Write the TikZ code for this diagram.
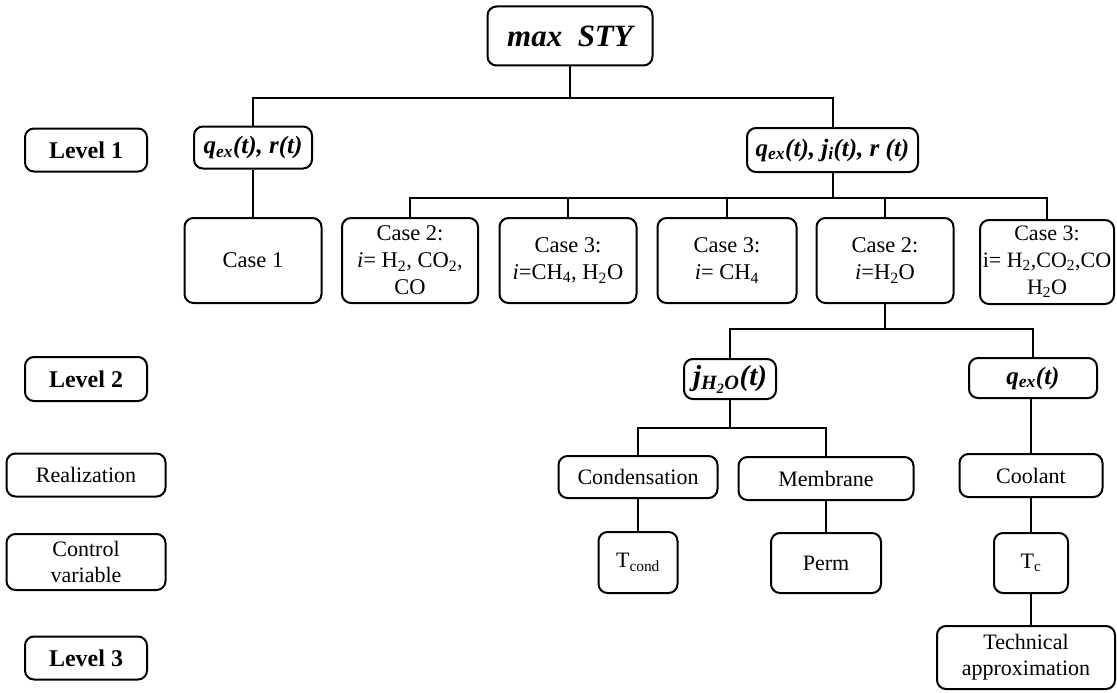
\documentclass[tikz,border=0pt]{standalone}
\usepackage{fontspec}
\setmainfont{Liberation Serif}
\usetikzlibrary{positioning}

\tikzset{
  tbox/.style={draw,line width=2pt,rounded corners=9pt,align=center,inner sep=2pt,font=\fontsize{22}{26}\selectfont},
  lvlbox/.style={tbox,font=\fontsize{24}{28}\selectfont\bfseries,minimum width=122pt,minimum height=43pt},
  sidebox/.style={tbox,minimum width=159pt},
  varbox/.style={tbox,font=\fontsize{25}{28}\selectfont\bfseries\itshape,minimum height=42pt},
  casebox/.style={tbox,minimum width=137pt,minimum height=85pt,font=\fontsize{22.5}{27}\selectfont},
  link/.style={line width=2pt}
}

\begin{document}
\begin{tikzpicture}[x=1pt,y=-1pt]
\useasboundingbox (0,0) rectangle (1117,693);
% top
\node [tbox,font=\fontsize{31}{34}\selectfont\bfseries\itshape,minimum width=165pt,minimum height=59pt] (STY) at (570,36) {max\ \ STY};
% level labels on the left
\node [lvlbox] (LevelOne) at (86,150) {Level 1};
\node [lvlbox,minimum height=44pt] (LevelTwo) at (86,379) {Level 2};
\node [sidebox,minimum height=43pt] (Realization) at (86,475) {Realization};
\node [sidebox,minimum height=56pt,font=\fontsize{22}{26}\selectfont] (ControlVar) at (86,562) {Control\\variable};
\node [lvlbox] (LevelThree) at (86,658) {Level 3};
% level 1
\node [varbox,minimum width=118pt] (QR) at (253,147.5) {q\textsubscript{ex}(t), r(t)};
\node [varbox,minimum width=171pt,minimum height=44pt] (QJR) at (832.5,150) {q\textsubscript{ex}(t), j\textsubscript{i}(t), r (t)};
\node [casebox] (CaseOne) at (253,260.5) {Case 1};
\node [casebox,minimum width=136pt] (CaseTwoA) at (410,260.5) {Case 2:\\\textit{i}= H\textsubscript{2}, CO\textsubscript{2},\\CO};
\node [casebox] (CaseThreeA) at (568,260.5) {Case 3:\\\textit{i}=CH\textsubscript{4}, H\textsubscript{2}O};
\node [casebox,minimum width=139pt] (CaseThreeB) at (727,260.5) {Case 3:\\\textit{i}= CH\textsubscript{4}};
\node [casebox] (CaseTwoB) at (885,260.5) {Case 2:\\\textit{i}=H\textsubscript{2}O};
\node [casebox,minimum width=134pt,minimum height=84pt,font=\fontsize{22}{27}\selectfont] (CaseThreeC) at (1047,262) {Case 3:\\i= H\textsubscript{2},CO\textsubscript{2},CO\\H\textsubscript{2}O};
% level 2
\node [varbox,minimum width=92pt,minimum height=40pt,font=\fontsize{29}{32}\selectfont\bfseries\itshape] (JW) at (730,379) {j\textsubscript{H\textsubscript{2}O}(t)};
\node [varbox,minimum width=128pt,minimum height=40pt] (QX) at (1033,378) {q\textsubscript{ex}(t)};
% realization
\node [tbox,minimum width=159pt,minimum height=42pt] (Condensation) at (638,477) {Condensation};
\node [tbox,minimum width=175pt,minimum height=43pt] (Membrane) at (826,478.5) {Membrane};
\node [tbox,minimum width=143pt,minimum height=43pt] (Coolant) at (1031,475.5) {Coolant};
% control variables
\node [tbox,minimum width=79pt,minimum height=61pt] (TCond) at (638,562.5) {T\textsubscript{cond}};
\node [tbox,minimum width=110pt,minimum height=60pt] (Perm) at (826,563) {Perm};
\node [tbox,minimum width=74pt,minimum height=60pt] (TC) at (1031,563) {T\textsubscript{c}};
% level 3
\node [tbox,minimum width=178pt,minimum height=63pt] (TechApprox) at (1026,657.5) {Technical\\approximation};
% connectors
\coordinate (BusTop) at (570,98);
\coordinate (BusCase) at (832.5,198);
\coordinate (BusLvlTwo) at (885,329);
\coordinate (BusReal) at (730,428);
\draw [link] (STY.south) -- (BusTop);
\draw [link] (QR.north) |- (BusTop) -| (QJR.north);
\draw [link] (QR.south) -- (CaseOne.north);
\draw [link] (QJR.south) -- (BusCase);
\draw [link] (CaseTwoA.north) |- (BusCase) -| (CaseThreeC.north);
\draw [link] (CaseThreeA.north) -- (CaseThreeA.north |- BusCase);
\draw [link] (CaseThreeB.north) -- (CaseThreeB.north |- BusCase);
\draw [link] (CaseTwoB.north) -- (CaseTwoB.north |- BusCase);
\draw [link] (CaseTwoB.south) -- (BusLvlTwo);
\draw [link] (JW.north) |- (BusLvlTwo) -| (QX.north);
\draw [link] (JW.south) -- (BusReal);
\draw [link] (Condensation.north) |- (BusReal) -| (Membrane.north);
\draw [link] (Condensation.south) -- (TCond.north);
\draw [link] (Membrane.south) -- (Perm.north);
\draw [link] (Coolant.north) -- (Coolant.north |- QX.south);
\draw [link] (Coolant.south) -- (TC.north);
\draw [link] (TC.south) -- (TC.south |- TechApprox.north);
\end{tikzpicture}
\end{document}
